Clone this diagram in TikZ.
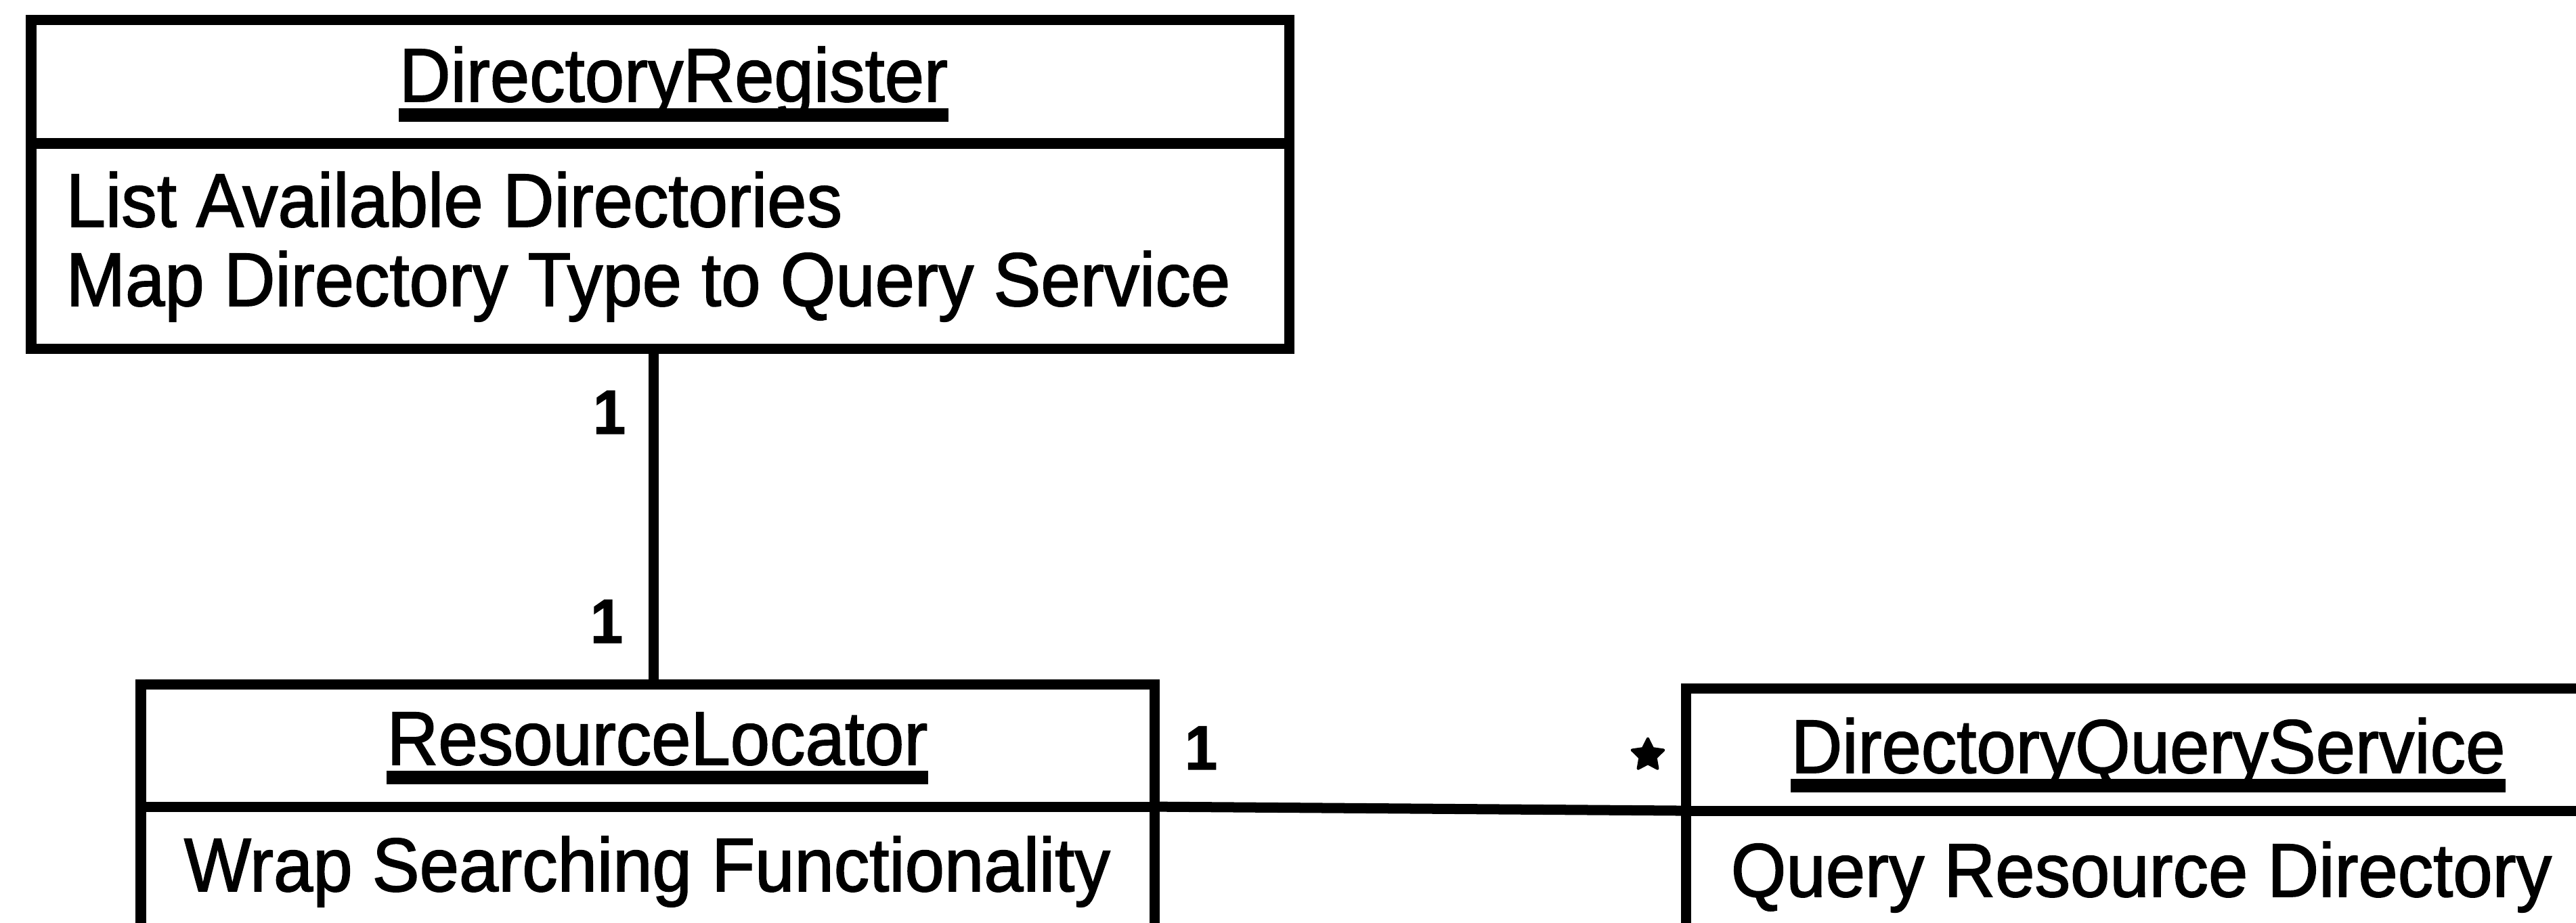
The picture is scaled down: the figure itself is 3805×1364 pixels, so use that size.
\documentclass[tikz,border=0pt]{standalone}
\usepackage{fontspec}
\setmainfont{Liberation Sans}[FakeStretch=0.935, FakeBold=1.5]
\usetikzlibrary{shapes.geometric}
\begin{document}
\begin{tikzpicture}[x=0.01cm, y=-0.01cm,
  compartment/.style={draw, rectangle, inner sep=0pt, outer sep=0pt,
    line width=0.15cm, anchor=north west},
  classname/.style={inner sep=0pt, anchor=base,
    font=\fontsize{31.9pt}{38pt}\selectfont},
  operation/.style={inner sep=0pt,
    font=\fontsize{31.9pt}{38pt}\selectfont},
  mult/.style={inner sep=0pt, anchor=base,
    font=\fontsize{26.2pt}{30pt}\selectfont\bfseries},
  manystar/.style={star, star points=5, star point ratio=2, fill, draw,
    line join=round, line width=0.04cm, minimum size=0.49cm, inner sep=0pt},
  assoc/.style={line width=0.15cm},
  underbar/.style={line width=0.2cm}
]
\useasboundingbox (0,0) rectangle (3805,1364);
\clip (0,0) rectangle (3805,1364);
\fill[white] (0,0) rectangle (3805,1364);

% DirectoryRegister class
\node[compartment, minimum width=18.57cm, minimum height=1.82cm] (drT) at (46,30) {};
\node[compartment, minimum width=18.57cm, minimum height=3.03cm] (drB) at (46,212) {};
\node[classname] (drName) at (995,150) {DirectoryRegister};
\draw[underbar] ([yshift=-0.2cm]drName.base west) -- ([yshift=-0.2cm]drName.base east);
\node[operation, anchor=base west] (drOp1) at (97,335) {List Available Directories};
\node[operation, anchor=base west] (drOp2) at (97,452) {Map Directory Type to Query Service};

% ResourceLocator class
\node[compartment, minimum width=14.97cm, minimum height=1.81cm] (rlT) at (208,1011) {};
\node[compartment, minimum width=14.97cm, minimum height=4.08cm] (rlB) at (208,1192) {};
\node[classname] (rlName) at (971,1130) {ResourceLocator};
\draw[underbar] ([yshift=-0.19cm]rlName.base west) -- ([yshift=-0.19cm]rlName.base east);
\node[operation, anchor=base] (rlOp) at (956,1317) {Wrap Searching Functionality};

% DirectoryQueryService class
\node[compartment, minimum width=13.6cm, minimum height=1.81cm] (dqsT) at (2490,1017) {};
\node[compartment, minimum width=13.6cm, minimum height=4.0cm] (dqsB) at (2490,1198) {};
\node[classname] (dqsName) at (3173,1142) {DirectoryQueryService};
\draw[underbar] ([yshift=-0.19cm]dqsName.base west) -- ([yshift=-0.19cm]dqsName.base east);
\node[operation, anchor=base] (dqsOp) at (3163,1325) {Query Resource Directory};

% associations
\draw[assoc] ([xshift=0.09cm]rlT.north |- drB.south) -- ([xshift=0.09cm]rlT.north);
\draw[assoc] (rlT.south east) -- (dqsT.south west);

% multiplicities
\node[mult] (mDR) at (900,641) {1};
\node[mult] (mRLup) at (896,950) {1};
\node[mult] (mRLside) at (1774,1137) {1};
\node[manystar] (mDQS) at (2434,1116) {};
\end{tikzpicture}
\end{document}
